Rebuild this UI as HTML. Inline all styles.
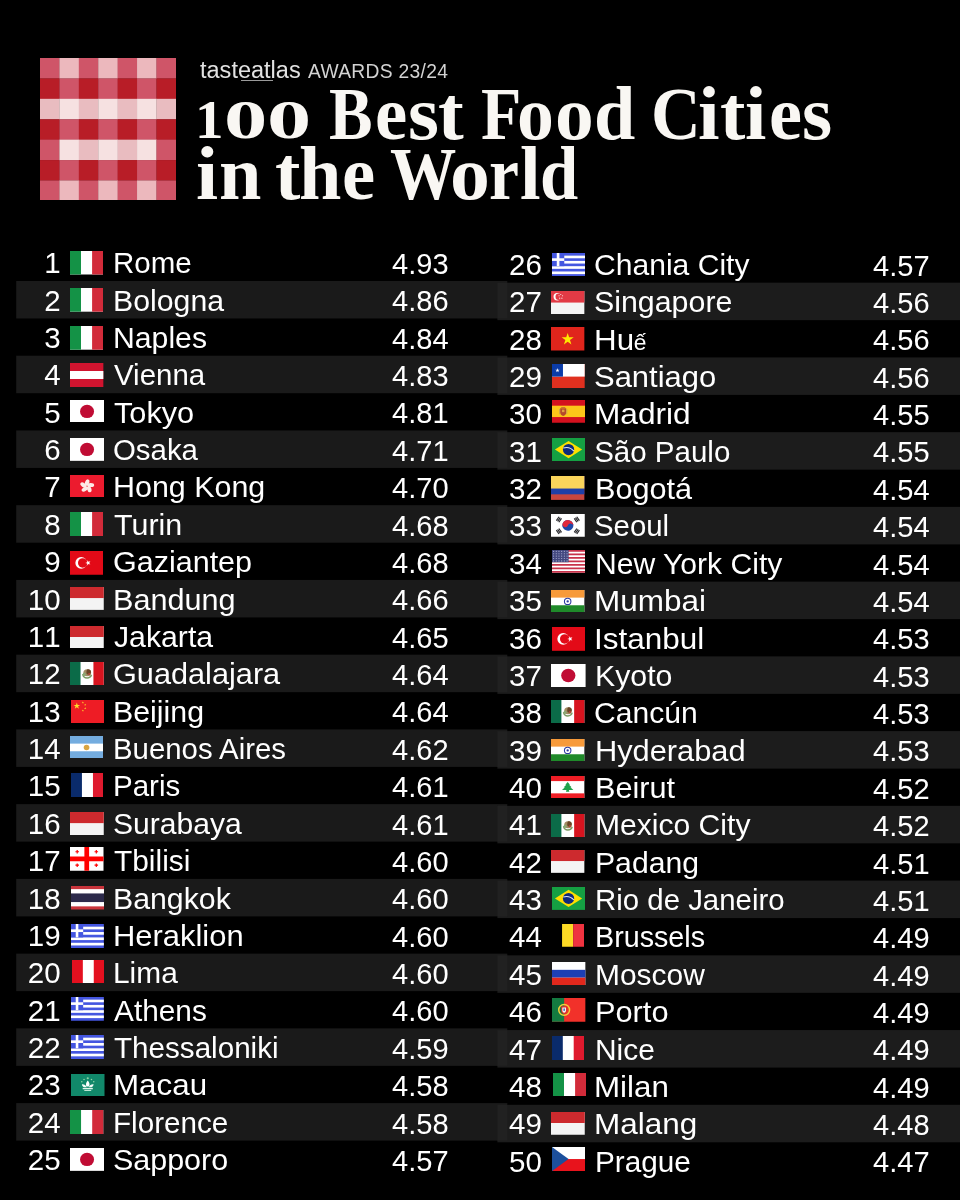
<!DOCTYPE html>
<html lang="en"><head><meta charset="utf-8"><title>100 Best Food Cities in the World</title>
<style>
html,body{margin:0;padding:0;background:#000;}
body{width:960px;height:1200px;overflow:hidden;}
.page{position:relative;width:960px;height:1200px;background:#000;overflow:hidden;font-family:"Liberation Sans",sans-serif;color:#fff;}
.logo{position:absolute;left:40.4px;top:57.5px;}
.ta,.aw{position:absolute;display:block;line-height:1;white-space:nowrap;transform-origin:0 0;}
.ta{color:#e2e2e2;}
.aw{color:#d2d2d2;}
.ul{position:absolute;left:241px;top:79.6px;width:32px;height:1.6px;background:#9a9a9a;}
h1{margin:0;padding:0;}
.tw{position:absolute;display:block;font-family:"Liberation Serif",serif;font-weight:bold;line-height:1;white-space:nowrap;color:#f9f7f3;transform-origin:0 0;}
.stripes{position:absolute;left:0;top:0;display:block;}
.n,.c,.v{position:absolute;display:block;font-size:29.5px;line-height:1;white-space:nowrap;transform-origin:0 0;color:#fff;}
.n,.v{font-kerning:none;}
.v{font-size:30.3px;}
.e{font-size:21.5px;margin-left:-0.3px;}
.fl{position:absolute;display:block;}

</style></head>
<body>
<div class="page">
<svg class="logo" viewBox="0 0 135.8 142.9" width="135.8" height="142.9"><rect x="0.00" y="0.00" width="19.71" height="20.71" fill="#cf5568"/><rect x="19.41" y="0.00" width="19.71" height="20.71" fill="#ecb8bd"/><rect x="38.81" y="0.00" width="19.71" height="20.71" fill="#cf5568"/><rect x="58.22" y="0.00" width="19.71" height="20.71" fill="#ecb8bd"/><rect x="77.63" y="0.00" width="19.71" height="20.71" fill="#cf5568"/><rect x="97.04" y="0.00" width="19.71" height="20.71" fill="#ecb8bd"/><rect x="116.44" y="0.00" width="19.71" height="20.71" fill="#cf5568"/><rect x="0.00" y="20.41" width="19.71" height="20.71" fill="#b81d27"/><rect x="19.41" y="20.41" width="19.71" height="20.71" fill="#cf5568"/><rect x="38.81" y="20.41" width="19.71" height="20.71" fill="#b81d27"/><rect x="58.22" y="20.41" width="19.71" height="20.71" fill="#cf5568"/><rect x="77.63" y="20.41" width="19.71" height="20.71" fill="#b81d27"/><rect x="97.04" y="20.41" width="19.71" height="20.71" fill="#cf5568"/><rect x="116.44" y="20.41" width="19.71" height="20.71" fill="#b81d27"/><rect x="0.00" y="40.83" width="19.71" height="20.71" fill="#e9bcc0"/><rect x="19.41" y="40.83" width="19.71" height="20.71" fill="#f6e1e1"/><rect x="38.81" y="40.83" width="19.71" height="20.71" fill="#e9bcc0"/><rect x="58.22" y="40.83" width="19.71" height="20.71" fill="#f6e1e1"/><rect x="77.63" y="40.83" width="19.71" height="20.71" fill="#e9bcc0"/><rect x="97.04" y="40.83" width="19.71" height="20.71" fill="#f6e1e1"/><rect x="116.44" y="40.83" width="19.71" height="20.71" fill="#e9bcc0"/><rect x="0.00" y="61.24" width="19.71" height="20.71" fill="#b81d27"/><rect x="19.41" y="61.24" width="19.71" height="20.71" fill="#cf5568"/><rect x="38.81" y="61.24" width="19.71" height="20.71" fill="#b81d27"/><rect x="58.22" y="61.24" width="19.71" height="20.71" fill="#cf5568"/><rect x="77.63" y="61.24" width="19.71" height="20.71" fill="#b81d27"/><rect x="97.04" y="61.24" width="19.71" height="20.71" fill="#cf5568"/><rect x="116.44" y="61.24" width="19.71" height="20.71" fill="#b81d27"/><rect x="0.00" y="81.66" width="19.71" height="20.71" fill="#cf5568"/><rect x="19.41" y="81.66" width="19.71" height="20.71" fill="#f6e1e1"/><rect x="38.81" y="81.66" width="19.71" height="20.71" fill="#e9bcc0"/><rect x="58.22" y="81.66" width="19.71" height="20.71" fill="#f6e1e1"/><rect x="77.63" y="81.66" width="19.71" height="20.71" fill="#e9bcc0"/><rect x="97.04" y="81.66" width="19.71" height="20.71" fill="#f6e1e1"/><rect x="116.44" y="81.66" width="19.71" height="20.71" fill="#cf5568"/><rect x="0.00" y="102.07" width="19.71" height="20.71" fill="#b81d27"/><rect x="19.41" y="102.07" width="19.71" height="20.71" fill="#cf5568"/><rect x="38.81" y="102.07" width="19.71" height="20.71" fill="#b81d27"/><rect x="58.22" y="102.07" width="19.71" height="20.71" fill="#cf5568"/><rect x="77.63" y="102.07" width="19.71" height="20.71" fill="#b81d27"/><rect x="97.04" y="102.07" width="19.71" height="20.71" fill="#cf5568"/><rect x="116.44" y="102.07" width="19.71" height="20.71" fill="#b81d27"/><rect x="0.00" y="122.49" width="19.71" height="20.71" fill="#cf5568"/><rect x="19.41" y="122.49" width="19.71" height="20.71" fill="#ecb8bd"/><rect x="38.81" y="122.49" width="19.71" height="20.71" fill="#cf5568"/><rect x="58.22" y="122.49" width="19.71" height="20.71" fill="#ecb8bd"/><rect x="77.63" y="122.49" width="19.71" height="20.71" fill="#cf5568"/><rect x="97.04" y="122.49" width="19.71" height="20.71" fill="#ecb8bd"/><rect x="116.44" y="122.49" width="19.71" height="20.71" fill="#cf5568"/></svg>
<span class="ta" style="left:200.15px;top:58.83px;font-size:23.00px;letter-spacing:0.00px;transform:scaleX(1.0226)">tasteatlas</span>
<div class="ul"></div>
<span class="aw" style="left:307.50px;top:61.79px;font-size:19.50px;letter-spacing:0.30px;transform:scaleX(0.9876)">AWARDS 23/24</span>
<h1>
<span class="w"><span class="tw" style="left:195.14px;top:93.19px;font-size:54.70px;transform-origin:0 45.81px;transform:scale(1.0425,1.000)">1</span><span class="tw" style="left:224.47px;top:93.19px;font-size:54.70px;transform-origin:0 45.81px;transform:scale(1.5816,1.000)">0</span><span class="tw" style="left:266.91px;top:93.19px;font-size:54.70px;transform-origin:0 45.81px;transform:scale(1.6156,1.000)">0</span></span>
<span class="w"><span class="tw" style="left:329.02px;top:77.61px;font-size:73.30px;transform-origin:0 61.39px;transform:scale(0.8906,1.000)">B</span><span class="tw" style="left:374.52px;top:77.61px;font-size:73.30px;transform-origin:0 61.39px;transform:scale(0.9900,1.045)">e</span><span class="tw" style="left:407.61px;top:77.61px;font-size:73.30px;transform-origin:0 61.39px;transform:scale(1.0873,1.045)">s</span><span class="tw" style="left:437.84px;top:77.61px;font-size:73.30px;transform-origin:0 61.39px;transform:scale(1.0524,1.045)">t</span></span>
<span class="w"><span class="tw" style="left:480.71px;top:77.61px;font-size:73.30px;transform-origin:0 61.39px;transform:scale(0.9004,1.000)">F</span><span class="tw" style="left:517.42px;top:77.61px;font-size:73.30px;transform-origin:0 61.39px;transform:scale(1.0057,1.045)">o</span><span class="tw" style="left:554.79px;top:77.61px;font-size:73.30px;transform-origin:0 61.39px;transform:scale(1.0565,1.045)">o</span><span class="tw" style="left:593.73px;top:77.61px;font-size:73.30px;transform-origin:0 61.39px;transform:scale(1.0131,1.045)">d</span></span>
<span class="w"><span class="tw" style="left:651.31px;top:77.61px;font-size:73.30px;transform-origin:0 61.39px;transform:scale(0.9381,1.000)">C</span><span class="tw" style="left:698.45px;top:77.61px;font-size:73.30px;transform-origin:0 61.39px;transform:scale(1.0580,1.045)">i</span><span class="tw" style="left:719.86px;top:77.61px;font-size:73.30px;transform-origin:0 61.39px;transform:scale(1.0394,1.045)">t</span><span class="tw" style="left:745.47px;top:77.61px;font-size:73.30px;transform-origin:0 61.39px;transform:scale(1.0469,1.045)">i</span><span class="tw" style="left:768.77px;top:77.61px;font-size:73.30px;transform-origin:0 61.39px;transform:scale(1.0144,1.045)">e</span><span class="tw" style="left:802.07px;top:77.61px;font-size:73.30px;transform-origin:0 61.39px;transform:scale(1.0588,1.045)">s</span></span>
<span class="w"><span class="tw" style="left:196.41px;top:138.41px;font-size:73.30px;transform-origin:0 61.39px;transform:scale(1.0858,1.045)">i</span><span class="tw" style="left:218.50px;top:138.41px;font-size:73.30px;transform-origin:0 61.39px;transform:scale(1.0389,1.045)">n</span></span>
<span class="w"><span class="tw" style="left:274.86px;top:138.41px;font-size:73.30px;transform-origin:0 61.39px;transform:scale(1.0394,1.045)">t</span><span class="tw" style="left:299.48px;top:138.41px;font-size:73.30px;transform-origin:0 61.39px;transform:scale(1.0394,1.045)">h</span><span class="tw" style="left:342.36px;top:138.41px;font-size:73.30px;transform-origin:0 61.39px;transform:scale(1.0197,1.045)">e</span></span>
<span class="w"><span class="tw" style="left:389.54px;top:138.41px;font-size:73.30px;transform-origin:0 61.39px;transform:scale(0.9039,1.000)">W</span><span class="tw" style="left:449.91px;top:138.41px;font-size:73.30px;transform-origin:0 61.39px;transform:scale(1.0882,1.045)">o</span><span class="tw" style="left:489.31px;top:138.41px;font-size:73.30px;transform-origin:0 61.39px;transform:scale(0.9209,1.045)">r</span><span class="tw" style="left:520.39px;top:138.41px;font-size:73.30px;transform-origin:0 61.39px;transform:scale(1.0095,1.045)">l</span><span class="tw" style="left:540.25px;top:138.41px;font-size:73.30px;transform-origin:0 61.39px;transform:scale(0.9374,1.045)">d</span></span>
</h1>
<svg class="stripes" width="960" height="1200" viewBox="0 0 960 1200">
<rect x="16.2" y="280.97" width="491.1" height="37.50" fill="#1a1a1a"/>
<rect x="497.4" y="282.67" width="462.6" height="37.50" fill="#1c1c1c"/>
<rect x="497.4" y="282.67" width="9.900" height="35.80" fill="#212121"/>
<rect x="16.2" y="355.71" width="491.1" height="37.50" fill="#1a1a1a"/>
<rect x="497.4" y="357.41" width="462.6" height="37.50" fill="#1c1c1c"/>
<rect x="497.4" y="357.41" width="9.900" height="35.80" fill="#212121"/>
<rect x="16.2" y="430.45" width="491.1" height="37.50" fill="#1a1a1a"/>
<rect x="497.4" y="432.15" width="462.6" height="37.50" fill="#1c1c1c"/>
<rect x="497.4" y="432.15" width="9.900" height="35.80" fill="#212121"/>
<rect x="16.2" y="505.19" width="491.1" height="37.50" fill="#1a1a1a"/>
<rect x="497.4" y="506.89" width="462.6" height="37.50" fill="#1c1c1c"/>
<rect x="497.4" y="506.89" width="9.900" height="35.80" fill="#212121"/>
<rect x="16.2" y="579.93" width="491.1" height="37.50" fill="#1a1a1a"/>
<rect x="497.4" y="581.63" width="462.6" height="37.50" fill="#1c1c1c"/>
<rect x="497.4" y="581.63" width="9.900" height="35.80" fill="#212121"/>
<rect x="16.2" y="654.67" width="491.1" height="37.50" fill="#1a1a1a"/>
<rect x="497.4" y="656.37" width="462.6" height="37.50" fill="#1c1c1c"/>
<rect x="497.4" y="656.37" width="9.900" height="35.80" fill="#212121"/>
<rect x="16.2" y="729.41" width="491.1" height="37.50" fill="#1a1a1a"/>
<rect x="497.4" y="731.11" width="462.6" height="37.50" fill="#1c1c1c"/>
<rect x="497.4" y="731.11" width="9.900" height="35.80" fill="#212121"/>
<rect x="16.2" y="804.15" width="491.1" height="37.50" fill="#1a1a1a"/>
<rect x="497.4" y="805.85" width="462.6" height="37.50" fill="#1c1c1c"/>
<rect x="497.4" y="805.85" width="9.900" height="35.80" fill="#212121"/>
<rect x="16.2" y="878.89" width="491.1" height="37.50" fill="#1a1a1a"/>
<rect x="497.4" y="880.59" width="462.6" height="37.50" fill="#1c1c1c"/>
<rect x="497.4" y="880.59" width="9.900" height="35.80" fill="#212121"/>
<rect x="16.2" y="953.63" width="491.1" height="37.50" fill="#1a1a1a"/>
<rect x="497.4" y="955.33" width="462.6" height="37.50" fill="#1c1c1c"/>
<rect x="497.4" y="955.33" width="9.900" height="35.80" fill="#212121"/>
<rect x="16.2" y="1028.37" width="491.1" height="37.50" fill="#1a1a1a"/>
<rect x="497.4" y="1030.07" width="462.6" height="37.50" fill="#1c1c1c"/>
<rect x="497.4" y="1030.07" width="9.900" height="35.80" fill="#212121"/>
<rect x="16.2" y="1103.11" width="491.1" height="37.50" fill="#1a1a1a"/>
<rect x="497.4" y="1104.81" width="462.6" height="37.50" fill="#1c1c1c"/>
<rect x="497.4" y="1104.81" width="9.900" height="35.80" fill="#212121"/>
</svg>
<div class="row">
<span class="n" style="left:44.19px;top:248.23px;">1</span>
<svg class="fl" style="left:70.40px;top:251.10px;width:33.10px;height:23.50px" viewBox="0 0 34 24" preserveAspectRatio="none"><rect width="34" height="24" fill="#fff"/><rect width="11.3" height="24" fill="#149246"/><rect x="22.7" width="11.3" height="24" fill="#d22b3a"/></svg>
<span class="c" style="left:113.04px;top:248.23px;">Rome</span>
<span class="v" style="left:391.82px;top:249.00px;transform:scaleX(0.9594)">4.93</span>
</div>
<div class="row">
<span class="n" style="left:44.19px;top:285.60px;">2</span>
<svg class="fl" style="left:70.40px;top:288.40px;width:33.10px;height:23.70px" viewBox="0 0 34 24" preserveAspectRatio="none"><rect width="34" height="24" fill="#fff"/><rect width="11.3" height="24" fill="#149246"/><rect x="22.7" width="11.3" height="24" fill="#d22b3a"/></svg>
<span class="c" style="left:112.98px;top:285.60px;transform:scaleX(1.0258);">Bologna</span>
<span class="v" style="left:391.82px;top:286.37px;transform:scaleX(0.9594)">4.86</span>
</div>
<div class="row">
<span class="n" style="left:44.19px;top:322.97px;">3</span>
<svg class="fl" style="left:70.40px;top:325.90px;width:33.10px;height:23.70px" viewBox="0 0 34 24" preserveAspectRatio="none"><rect width="34" height="24" fill="#fff"/><rect width="11.3" height="24" fill="#149246"/><rect x="22.7" width="11.3" height="24" fill="#d22b3a"/></svg>
<span class="c" style="left:112.98px;top:322.97px;transform:scaleX(1.0234);">Naples</span>
<span class="v" style="left:391.82px;top:323.74px;transform:scaleX(0.9594)">4.84</span>
</div>
<div class="row">
<span class="n" style="left:44.19px;top:360.34px;">4</span>
<svg class="fl" style="left:70.40px;top:362.75px;width:33.35px;height:24.00px" viewBox="0 0 34 24" preserveAspectRatio="none"><rect width="34" height="24" fill="#d0142f"/><rect y="8" width="34" height="8" fill="#fff"/></svg>
<span class="c" style="left:114.15px;top:360.34px;transform:scaleX(0.9980);">Vienna</span>
<span class="v" style="left:391.82px;top:361.11px;transform:scaleX(0.9594)">4.83</span>
</div>
<div class="row">
<span class="n" style="left:44.19px;top:397.71px;">5</span>
<svg class="fl" style="left:70.00px;top:399.50px;width:34.10px;height:22.90px" viewBox="0 0 34 24" preserveAspectRatio="none"><rect width="34" height="24" fill="#fff"/><circle cx="17" cy="12" r="7" fill="#c00c34"/></svg>
<span class="c" style="left:113.54px;top:397.71px;transform:scaleX(1.0397);">Tokyo</span>
<span class="v" style="left:391.82px;top:398.48px;transform:scaleX(0.9594)">4.81</span>
</div>
<div class="row">
<span class="n" style="left:44.19px;top:435.08px;">6</span>
<svg class="fl" style="left:70.00px;top:437.90px;width:34.10px;height:22.85px" viewBox="0 0 34 24" preserveAspectRatio="none"><rect width="34" height="24" fill="#fff"/><circle cx="17" cy="12" r="7" fill="#c00c34"/></svg>
<span class="c" style="left:112.83px;top:435.08px;transform:scaleX(0.9965);">Osaka</span>
<span class="v" style="left:391.82px;top:435.85px;transform:scaleX(0.9594)">4.71</span>
</div>
<div class="row">
<span class="n" style="left:44.19px;top:472.45px;">7</span>
<svg class="fl" style="left:70.00px;top:474.50px;width:34.10px;height:22.75px" viewBox="0 0 34 24" preserveAspectRatio="none"><rect width="34" height="24" fill="#ec1b2e"/><g fill="#fde9e6" transform="translate(17 11.800)"><ellipse cx="0" cy="-3.800" rx="2.100" ry="3.500" transform="rotate(0) rotate(20 0 -3.800)"/><ellipse cx="0" cy="-3.800" rx="2.100" ry="3.500" transform="rotate(72) rotate(20 0 -3.800)"/><ellipse cx="0" cy="-3.800" rx="2.100" ry="3.500" transform="rotate(144) rotate(20 0 -3.800)"/><ellipse cx="0" cy="-3.800" rx="2.100" ry="3.500" transform="rotate(216) rotate(20 0 -3.800)"/><ellipse cx="0" cy="-3.800" rx="2.100" ry="3.500" transform="rotate(288) rotate(20 0 -3.800)"/></g></svg>
<span class="c" style="left:112.97px;top:472.45px;transform:scaleX(1.0317);">Hong Kong</span>
<span class="v" style="left:391.82px;top:473.22px;transform:scaleX(0.9594)">4.70</span>
</div>
<div class="row">
<span class="n" style="left:44.19px;top:509.82px;">8</span>
<svg class="fl" style="left:70.40px;top:512.00px;width:33.10px;height:24.00px" viewBox="0 0 34 24" preserveAspectRatio="none"><rect width="34" height="24" fill="#fff"/><rect width="11.3" height="24" fill="#149246"/><rect x="22.7" width="11.3" height="24" fill="#d22b3a"/></svg>
<span class="c" style="left:113.54px;top:509.82px;transform:scaleX(1.0318);">Turin</span>
<span class="v" style="left:391.82px;top:510.59px;transform:scaleX(0.9594)">4.68</span>
</div>
<div class="row">
<span class="n" style="left:44.19px;top:547.19px;">9</span>
<svg class="fl" style="left:70.40px;top:551.00px;width:33.10px;height:23.75px" viewBox="0 0 34 24" preserveAspectRatio="none"><rect width="34" height="24" fill="#e30a17"/><circle cx="11.5" cy="12" r="6" fill="#fff"/><circle cx="13" cy="12" r="4.8" fill="#e30a17"/><polygon points="15.70,12.00 17.70,11.35 17.70,9.24 18.94,10.95 20.95,10.30 19.71,12.00 20.95,13.70 18.94,13.05 17.70,14.76 17.70,12.65" fill="#fff"/></svg>
<span class="c" style="left:112.63px;top:547.19px;transform:scaleX(1.0338);">Gaziantep</span>
<span class="v" style="left:391.82px;top:547.96px;transform:scaleX(0.9594)">4.68</span>
</div>
<div class="row">
<span class="n" style="left:27.79px;top:584.56px;">10</span>
<svg class="fl" style="left:70.00px;top:587.00px;width:33.75px;height:22.90px" viewBox="0 0 34 24" preserveAspectRatio="none"><rect width="34" height="24" fill="#f4f4f4"/><rect width="34" height="11.6" fill="#cd2a2e"/></svg>
<span class="c" style="left:112.95px;top:584.56px;transform:scaleX(1.0377);">Bandung</span>
<span class="v" style="left:391.82px;top:585.33px;transform:scaleX(0.9594)">4.66</span>
</div>
<div class="row">
<span class="n" style="left:27.79px;top:621.93px;">11</span>
<svg class="fl" style="left:70.00px;top:625.50px;width:33.75px;height:22.75px" viewBox="0 0 34 24" preserveAspectRatio="none"><rect width="34" height="24" fill="#f4f4f4"/><rect width="34" height="11.6" fill="#cd2a2e"/></svg>
<span class="c" style="left:113.70px;top:621.93px;transform:scaleX(1.0243);">Jakarta</span>
<span class="v" style="left:391.82px;top:622.70px;transform:scaleX(0.9594)">4.65</span>
</div>
<div class="row">
<span class="n" style="left:27.79px;top:659.30px;">12</span>
<svg class="fl" style="left:70.00px;top:662.00px;width:33.75px;height:23.10px" viewBox="0 0 34 24" preserveAspectRatio="none"><rect width="34" height="24" fill="#fff"/><rect width="10.6" height="24" fill="#0b6b48"/><rect x="23.6" width="10.4" height="24" fill="#d7141f"/><ellipse cx="17.4" cy="11.2" rx="3.900" ry="3.700" fill="#a08a62"/><path d="M17 8c2-1 4.200.2 4.200 2.400c0 1.600-1.200 2.600-2.800 2.600c-1.600 0-2.400-1.400-1.400-5z" fill="#6a4526"/><circle cx="19.400" cy="12.600" r="1.200" fill="#b0473a"/><path d="M12.800 12.600c.4 2.600 2.200 4 4.400 4s3.800-1.200 4.400-3.400" stroke="#7a9a63" stroke-width="1.500" fill="none"/><ellipse cx="14.400" cy="12.800" rx="1.500" ry="1.800" fill="#8aa672"/></svg>
<span class="c" style="left:112.62px;top:659.30px;transform:scaleX(1.0401);">Guadalajara</span>
<span class="v" style="left:391.82px;top:660.07px;transform:scaleX(0.9594)">4.64</span>
</div>
<div class="row">
<span class="n" style="left:27.79px;top:696.67px;">13</span>
<svg class="fl" style="left:71.00px;top:699.50px;width:33.10px;height:23.00px" viewBox="0 0 34 24" preserveAspectRatio="none"><rect width="34" height="24" fill="#ee1c25"/><polygon points="6.00,2.60 6.81,5.09 9.42,5.09 7.31,6.62 8.12,9.11 6.00,7.58 3.88,9.11 4.69,6.62 2.58,5.09 5.19,5.09" fill="#ffde2a"/><polygon points="12.20,1.40 12.47,2.23 13.34,2.23 12.64,2.74 12.91,3.57 12.20,3.06 11.49,3.57 11.76,2.74 11.06,2.23 11.93,2.23" fill="#ffde2a"/><polygon points="14.60,3.80 14.87,4.63 15.74,4.63 15.04,5.14 15.31,5.97 14.60,5.46 13.89,5.97 14.16,5.14 13.46,4.63 14.33,4.63" fill="#ffde2a"/><polygon points="14.60,7.40 14.87,8.23 15.74,8.23 15.04,8.74 15.31,9.57 14.60,9.06 13.89,9.57 14.16,8.74 13.46,8.23 14.33,8.23" fill="#ffde2a"/><polygon points="12.20,9.80 12.47,10.63 13.34,10.63 12.64,11.14 12.91,11.97 12.20,11.46 11.49,11.97 11.76,11.14 11.06,10.63 11.93,10.63" fill="#ffde2a"/></svg>
<span class="c" style="left:112.97px;top:696.67px;transform:scaleX(1.0279);">Beijing</span>
<span class="v" style="left:391.82px;top:697.44px;transform:scaleX(0.9594)">4.64</span>
</div>
<div class="row">
<span class="n" style="left:27.79px;top:734.04px;">14</span>
<svg class="fl" style="left:70.40px;top:735.60px;width:33.10px;height:22.90px" viewBox="0 0 34 24" preserveAspectRatio="none"><rect width="34" height="24" fill="#74acdf"/><rect y="8" width="34" height="8" fill="#fff"/><circle cx="17" cy="12" r="2.9" fill="#d9a441"/></svg>
<span class="c" style="left:113.05px;top:734.04px;transform:scaleX(0.9953);">Buenos Aires</span>
<span class="v" style="left:391.82px;top:734.81px;transform:scaleX(0.9594)">4.62</span>
</div>
<div class="row">
<span class="n" style="left:27.79px;top:771.41px;">15</span>
<svg class="fl" style="left:70.60px;top:772.90px;width:32.90px;height:24.10px" viewBox="0 0 34 24" preserveAspectRatio="none"><rect width="34" height="24" fill="#fff"/><rect width="11.3" height="24" fill="#0a2b6b"/><rect x="22.7" width="11.3" height="24" fill="#df1a2e"/></svg>
<span class="c" style="left:113.04px;top:771.41px;">Paris</span>
<span class="v" style="left:391.82px;top:772.18px;transform:scaleX(0.9594)">4.61</span>
</div>
<div class="row">
<span class="n" style="left:27.79px;top:808.78px;">16</span>
<svg class="fl" style="left:70.00px;top:812.00px;width:33.75px;height:23.00px" viewBox="0 0 34 24" preserveAspectRatio="none"><rect width="34" height="24" fill="#f4f4f4"/><rect width="34" height="11.6" fill="#cd2a2e"/></svg>
<span class="c" style="left:112.80px;top:808.78px;transform:scaleX(1.0194);">Surabaya</span>
<span class="v" style="left:391.82px;top:809.55px;transform:scaleX(0.9594)">4.61</span>
</div>
<div class="row">
<span class="n" style="left:27.79px;top:846.15px;">17</span>
<svg class="fl" style="left:70.25px;top:847.25px;width:33.50px;height:23.75px" viewBox="0 0 34 24" preserveAspectRatio="none"><rect width="34" height="24" fill="#fff"/><rect x="14.6" width="4.8" height="24" fill="#f00"/><rect y="9.6" width="34" height="4.8" fill="#f00"/><path d="M6.7 3h1.2v1.2h1.2v1.2h-1.2v1.2h-1.2v-1.2h-1.2v-1.2h1.2z" fill="#f00"/><path d="M26.1 3h1.2v1.2h1.2v1.2h-1.2v1.2h-1.2v-1.2h-1.2v-1.2h1.2z" fill="#f00"/><path d="M6.7 16.6h1.2v1.2h1.2v1.2h-1.2v1.2h-1.2v-1.2h-1.2v-1.2h1.2z" fill="#f00"/><path d="M26.1 16.6h1.2v1.2h1.2v1.2h-1.2v1.2h-1.2v-1.2h-1.2v-1.2h1.2z" fill="#f00"/></svg>
<span class="c" style="left:113.55px;top:846.15px;transform:scaleX(1.0128);">Tbilisi</span>
<span class="v" style="left:391.82px;top:846.92px;transform:scaleX(0.9594)">4.60</span>
</div>
<div class="row">
<span class="n" style="left:27.79px;top:883.52px;">18</span>
<svg class="fl" style="left:71.00px;top:886.25px;width:33.10px;height:23.50px" viewBox="0 0 34 24" preserveAspectRatio="none"><rect width="34" height="24" fill="#c8343b"/><rect y="3.200" width="34" height="17.600" fill="#fff"/><rect y="7.600" width="34" height="8.800" fill="#2c2a4b"/></svg>
<span class="c" style="left:112.98px;top:883.52px;transform:scaleX(1.0258);">Bangkok</span>
<span class="v" style="left:391.82px;top:884.29px;transform:scaleX(0.9594)">4.60</span>
</div>
<div class="row">
<span class="n" style="left:27.79px;top:920.89px;">19</span>
<svg class="fl" style="left:71.25px;top:923.75px;width:32.85px;height:24.15px" viewBox="0 0 34 24" preserveAspectRatio="none"><rect width="34" height="24" fill="#4456e0"/><rect y="2.67" width="34" height="2.67" fill="#fff"/><rect y="8.00" width="34" height="2.67" fill="#fff"/><rect y="13.33" width="34" height="2.67" fill="#fff"/><rect y="18.67" width="34" height="2.67" fill="#fff"/><rect width="12.6" height="13.33" fill="#4456e0"/><rect x="4.9" width="2.7" height="13.33" fill="#fff"/><rect y="5.33" width="12.6" height="2.67" fill="#fff"/></svg>
<span class="c" style="left:112.93px;top:920.89px;transform:scaleX(1.0482);">Heraklion</span>
<span class="v" style="left:391.82px;top:921.66px;transform:scaleX(0.9594)">4.60</span>
</div>
<div class="row">
<span class="n" style="left:27.79px;top:958.26px;">20</span>
<svg class="fl" style="left:71.50px;top:959.75px;width:32.60px;height:23.35px" viewBox="0 0 34 24" preserveAspectRatio="none"><rect width="34" height="24" fill="#fff"/><rect width="11.3" height="24" fill="#e4101f"/><rect x="22.7" width="11.3" height="24" fill="#e4101f"/></svg>
<span class="c" style="left:113.01px;top:958.26px;transform:scaleX(1.0131);">Lima</span>
<span class="v" style="left:391.82px;top:959.03px;transform:scaleX(0.9594)">4.60</span>
</div>
<div class="row">
<span class="n" style="left:27.79px;top:995.63px;">21</span>
<svg class="fl" style="left:71.25px;top:997.25px;width:32.85px;height:23.75px" viewBox="0 0 34 24" preserveAspectRatio="none"><rect width="34" height="24" fill="#4456e0"/><rect y="2.67" width="34" height="2.67" fill="#fff"/><rect y="8.00" width="34" height="2.67" fill="#fff"/><rect y="13.33" width="34" height="2.67" fill="#fff"/><rect y="18.67" width="34" height="2.67" fill="#fff"/><rect width="12.6" height="13.33" fill="#4456e0"/><rect x="4.9" width="2.7" height="13.33" fill="#fff"/><rect y="5.33" width="12.6" height="2.67" fill="#fff"/></svg>
<span class="c" style="left:114.15px;top:995.63px;transform:scaleX(1.0104);">Athens</span>
<span class="v" style="left:391.82px;top:996.40px;transform:scaleX(0.9594)">4.60</span>
</div>
<div class="row">
<span class="n" style="left:27.79px;top:1033.00px;">22</span>
<svg class="fl" style="left:71.25px;top:1034.75px;width:32.85px;height:24.00px" viewBox="0 0 34 24" preserveAspectRatio="none"><rect width="34" height="24" fill="#4456e0"/><rect y="2.67" width="34" height="2.67" fill="#fff"/><rect y="8.00" width="34" height="2.67" fill="#fff"/><rect y="13.33" width="34" height="2.67" fill="#fff"/><rect y="18.67" width="34" height="2.67" fill="#fff"/><rect width="12.6" height="13.33" fill="#4456e0"/><rect x="4.9" width="2.7" height="13.33" fill="#fff"/><rect y="5.33" width="12.6" height="2.67" fill="#fff"/></svg>
<span class="c" style="left:113.56px;top:1033.00px;transform:scaleX(1.0038);">Thessaloniki</span>
<span class="v" style="left:391.82px;top:1033.77px;transform:scaleX(0.9594)">4.59</span>
</div>
<div class="row">
<span class="n" style="left:27.79px;top:1070.37px;">23</span>
<svg class="fl" style="left:71.25px;top:1074.00px;width:33.50px;height:22.00px" viewBox="0 0 34 24" preserveAspectRatio="none"><rect width="34" height="24" fill="#11886a"/><g transform="translate(17 13.400) scale(1.350) translate(-17 -13)"><path d="M17 8.400c1.300 1.400 1.700 3.200 1 4.800h-2c-.7-1.600-.3-3.400 1-4.800z" fill="#fff"/><path d="M12.600 11.400c1.600-.2 3 .6 3.600 2.400h-2c-1-.4-1.500-1.400-1.600-2.400zM21.400 11.400c-1.600-.2-3 .6-3.600 2.400h2c1-.4 1.500-1.400 1.600-2.400z" fill="#f4fbf8"/><rect x="13.200" y="14.300" width="7.600" height="1.100" fill="#dff3ea"/><rect x="14.400" y="15.900" width="5.200" height=".9" fill="#bfe6d6"/><g fill="#8fd6a6"><circle cx="17" cy="6.600" r=".8"/><circle cx="14.200" cy="7.500" r=".6"/><circle cx="19.800" cy="7.500" r=".6"/><circle cx="12.500" cy="9.400" r=".6"/><circle cx="21.500" cy="9.400" r=".6"/></g></g></svg>
<span class="c" style="left:112.89px;top:1070.37px;transform:scaleX(1.0625);">Macau</span>
<span class="v" style="left:391.82px;top:1071.14px;transform:scaleX(0.9594)">4.58</span>
</div>
<div class="row">
<span class="n" style="left:27.79px;top:1107.74px;">24</span>
<svg class="fl" style="left:70.25px;top:1110.00px;width:33.25px;height:24.00px" viewBox="0 0 34 24" preserveAspectRatio="none"><rect width="34" height="24" fill="#fff"/><rect width="11.3" height="24" fill="#149246"/><rect x="22.7" width="11.3" height="24" fill="#d22b3a"/></svg>
<span class="c" style="left:113.03px;top:1107.74px;transform:scaleX(1.0050);">Florence</span>
<span class="v" style="left:391.82px;top:1108.51px;transform:scaleX(0.9594)">4.58</span>
</div>
<div class="row">
<span class="n" style="left:27.79px;top:1145.11px;">25</span>
<svg class="fl" style="left:70.00px;top:1147.75px;width:34.10px;height:22.85px" viewBox="0 0 34 24" preserveAspectRatio="none"><rect width="34" height="24" fill="#fff"/><circle cx="17" cy="12" r="7" fill="#c00c34"/></svg>
<span class="c" style="left:112.78px;top:1145.11px;transform:scaleX(1.0322);">Sapporo</span>
<span class="v" style="left:391.82px;top:1145.88px;transform:scaleX(0.9594)">4.57</span>
</div>
<div class="row">
<span class="n" style="left:508.99px;top:249.83px;">26</span>
<svg class="fl" style="left:551.50px;top:252.50px;width:33.10px;height:23.75px" viewBox="0 0 34 24" preserveAspectRatio="none"><rect width="34" height="24" fill="#4456e0"/><rect y="2.67" width="34" height="2.67" fill="#fff"/><rect y="8.00" width="34" height="2.67" fill="#fff"/><rect y="13.33" width="34" height="2.67" fill="#fff"/><rect y="18.67" width="34" height="2.67" fill="#fff"/><rect width="12.6" height="13.33" fill="#4456e0"/><rect x="4.9" width="2.7" height="13.33" fill="#fff"/><rect y="5.33" width="12.6" height="2.67" fill="#fff"/></svg>
<span class="c" style="left:594.00px;top:249.83px;transform:scaleX(1.0198);">Chania City</span>
<span class="v" style="left:873.02px;top:250.60px;transform:scaleX(0.9594)">4.57</span>
</div>
<div class="row">
<span class="n" style="left:508.99px;top:287.20px;">27</span>
<svg class="fl" style="left:551.25px;top:290.60px;width:33.35px;height:23.15px" viewBox="0 0 34 24" preserveAspectRatio="none"><rect width="34" height="24" fill="#f4f4f4"/><rect width="34" height="12" fill="#e23a45"/><circle cx="6.4" cy="6" r="3.8" fill="#fff"/><circle cx="8" cy="6" r="3.4" fill="#e23a45"/><circle cx="10" cy="3.6" r=".55" fill="#fff"/><circle cx="8.2" cy="5" r=".55" fill="#fff"/><circle cx="11.8" cy="5" r=".55" fill="#fff"/><circle cx="8.9" cy="7.4" r=".55" fill="#fff"/><circle cx="11.1" cy="7.4" r=".55" fill="#fff"/></svg>
<span class="c" style="left:594.13px;top:287.20px;transform:scaleX(1.0288);">Singapore</span>
<span class="v" style="left:873.02px;top:287.97px;transform:scaleX(0.9594)">4.56</span>
</div>
<div class="row">
<span class="n" style="left:508.99px;top:324.57px;">28</span>
<svg class="fl" style="left:551.25px;top:327.10px;width:33.35px;height:23.50px" viewBox="0 0 34 24" preserveAspectRatio="none"><rect width="34" height="24" fill="#e0251c"/><polygon points="17.00,6.10 18.46,10.59 23.18,10.59 19.36,13.37 20.82,17.86 17.00,15.08 13.18,17.86 14.64,13.37 10.82,10.59 15.54,10.59" fill="#ffe800"/></svg>
<span class="c" style="left:594.49px;top:324.57px;transform:scaleX(1.0629);">Hu<span class="e">ế</span></span>
<span class="v" style="left:873.02px;top:325.34px;transform:scaleX(0.9594)">4.56</span>
</div>
<div class="row">
<span class="n" style="left:508.99px;top:361.94px;">29</span>
<svg class="fl" style="left:551.90px;top:364.10px;width:32.70px;height:24.00px" viewBox="0 0 34 24" preserveAspectRatio="none"><rect width="34" height="24" fill="#e0301f"/><rect width="34" height="12.6" fill="#fff"/><rect width="11.4" height="12.6" fill="#0b3ca8"/><polygon points="5.70,4.10 6.22,5.69 7.89,5.69 6.54,6.67 7.05,8.26 5.70,7.28 4.35,8.26 4.86,6.67 3.51,5.69 5.18,5.69" fill="#fff"/></svg>
<span class="c" style="left:594.11px;top:361.94px;transform:scaleX(1.0490);">Santiago</span>
<span class="v" style="left:873.02px;top:362.71px;transform:scaleX(0.9594)">4.56</span>
</div>
<div class="row">
<span class="n" style="left:508.99px;top:399.31px;">30</span>
<svg class="fl" style="left:551.50px;top:400.25px;width:33.10px;height:22.75px" viewBox="0 0 34 24" preserveAspectRatio="none"><rect width="34" height="24" fill="#d4111e"/><rect y="6" width="34" height="12" fill="#fcc619"/><path d="M8.400 8.600h6.200v4.400c0 2.200-1.400 3.400-3.100 3.800c-1.700-.4-3.100-1.600-3.100-3.800z" fill="#b5482c"/><rect x="9.300" y="7.300" width="4.400" height="1.500" rx=".6" fill="#c9772e"/><rect x="7.300" y="9.400" width="1" height="5.600" fill="#c9a24a"/><rect x="14.700" y="9.400" width="1" height="5.600" fill="#c9a24a"/><rect x="10.200" y="10.200" width="2.600" height="2.600" fill="#e0a040"/></svg>
<span class="c" style="left:594.47px;top:399.31px;transform:scaleX(1.0726);">Madrid</span>
<span class="v" style="left:873.02px;top:400.08px;transform:scaleX(0.9594)">4.55</span>
</div>
<div class="row">
<span class="n" style="left:508.99px;top:436.68px;">31</span>
<svg class="fl" style="left:551.50px;top:437.75px;width:33.10px;height:23.15px" viewBox="0 0 34 24" preserveAspectRatio="none"><rect width="34" height="24" fill="#15a043"/><polygon points="17,3 31,12 17,21 3,12" fill="#fedf00"/><circle cx="17" cy="12" r="5.8" fill="#102a7a"/><path d="M11.6 10.4c4-1.2 8-.2 10.900 3.200" stroke="#dfe6f5" stroke-width="1.1" fill="none"/></svg>
<span class="c" style="left:594.17px;top:436.68px;">São Paulo</span>
<span class="v" style="left:873.02px;top:437.45px;transform:scaleX(0.9594)">4.55</span>
</div>
<div class="row">
<span class="n" style="left:508.99px;top:474.05px;">32</span>
<svg class="fl" style="left:551.25px;top:476.10px;width:33.35px;height:23.90px" viewBox="0 0 34 24" preserveAspectRatio="none"><rect width="34" height="24" fill="#c8463f"/><rect width="34" height="18.4" fill="#1f3fa8"/><rect width="34" height="12.6" fill="#fad55b"/></svg>
<span class="c" style="left:594.55px;top:474.05px;transform:scaleX(1.0383);">Bogotá</span>
<span class="v" style="left:873.02px;top:474.82px;transform:scaleX(0.9594)">4.54</span>
</div>
<div class="row">
<span class="n" style="left:508.99px;top:511.42px;">33</span>
<svg class="fl" style="left:551.00px;top:513.75px;width:33.75px;height:22.75px" viewBox="0 0 34 24" preserveAspectRatio="none"><rect width="34" height="24" fill="#fff"/><g transform="translate(17 12) rotate(20)"><circle r="5.600" fill="#1d47a8"/><path d="M-5.600 0a5.600 5.600 0 0 1 11.200 0a2.800 2.800 0 0 0-5.600 0a2.800 2.800 0 0 1-5.600 0z" fill="#e0283c"/></g><g transform="translate(8 5.8) rotate(-56)" fill="#26262a"><rect x="-2.400" y="-2.100" width="4.800" height="1.150"/><rect x="-2.400" y="-.575" width="4.800" height="1.150"/><rect x="-2.400" y=".95" width="4.800" height="1.150"/></g><g transform="translate(26 5.8) rotate(56)" fill="#26262a"><rect x="-2.400" y="-2.100" width="4.800" height="1.150"/><rect x="-2.400" y="-.575" width="4.800" height="1.150"/><rect x="-2.400" y=".95" width="4.800" height="1.150"/></g><g transform="translate(8 18.2) rotate(56)" fill="#26262a"><rect x="-2.400" y="-2.100" width="4.800" height="1.150"/><rect x="-2.400" y="-.575" width="4.800" height="1.150"/><rect x="-2.400" y=".95" width="4.800" height="1.150"/></g><g transform="translate(26 18.2) rotate(-56)" fill="#26262a"><rect x="-2.400" y="-2.100" width="4.800" height="1.150"/><rect x="-2.400" y="-.575" width="4.800" height="1.150"/><rect x="-2.400" y=".95" width="4.800" height="1.150"/></g></svg>
<span class="c" style="left:594.18px;top:511.42px;transform:scaleX(0.9960);">Seoul</span>
<span class="v" style="left:873.02px;top:512.19px;transform:scaleX(0.9594)">4.54</span>
</div>
<div class="row">
<span class="n" style="left:508.99px;top:548.79px;">34</span>
<svg class="fl" style="left:551.50px;top:550.25px;width:33.25px;height:22.75px" viewBox="0 0 34 24" preserveAspectRatio="none"><rect width="34" height="24" fill="#fff"/><rect y="0.000" width="34" height="1.846" fill="#c8324a"/><rect y="3.692" width="34" height="1.846" fill="#c8324a"/><rect y="7.384" width="34" height="1.846" fill="#c8324a"/><rect y="11.076" width="34" height="1.846" fill="#c8324a"/><rect y="14.768" width="34" height="1.846" fill="#c8324a"/><rect y="18.460" width="34" height="1.846" fill="#c8324a"/><rect y="22.152" width="34" height="1.846" fill="#c8324a"/><rect width="17" height="12.920" fill="#43487f"/><circle cx="1.60" cy="1.40" r=".62" fill="#aeb2d6"/><circle cx="4.36" cy="1.40" r=".62" fill="#aeb2d6"/><circle cx="7.12" cy="1.40" r=".62" fill="#aeb2d6"/><circle cx="9.88" cy="1.40" r=".62" fill="#aeb2d6"/><circle cx="12.64" cy="1.40" r=".62" fill="#aeb2d6"/><circle cx="15.40" cy="1.40" r=".62" fill="#aeb2d6"/><circle cx="1.60" cy="3.93" r=".62" fill="#aeb2d6"/><circle cx="4.36" cy="3.93" r=".62" fill="#aeb2d6"/><circle cx="7.12" cy="3.93" r=".62" fill="#aeb2d6"/><circle cx="9.88" cy="3.93" r=".62" fill="#aeb2d6"/><circle cx="12.64" cy="3.93" r=".62" fill="#aeb2d6"/><circle cx="15.40" cy="3.93" r=".62" fill="#aeb2d6"/><circle cx="1.60" cy="6.46" r=".62" fill="#aeb2d6"/><circle cx="4.36" cy="6.46" r=".62" fill="#aeb2d6"/><circle cx="7.12" cy="6.46" r=".62" fill="#aeb2d6"/><circle cx="9.88" cy="6.46" r=".62" fill="#aeb2d6"/><circle cx="12.64" cy="6.46" r=".62" fill="#aeb2d6"/><circle cx="15.40" cy="6.46" r=".62" fill="#aeb2d6"/><circle cx="1.60" cy="8.99" r=".62" fill="#aeb2d6"/><circle cx="4.36" cy="8.99" r=".62" fill="#aeb2d6"/><circle cx="7.12" cy="8.99" r=".62" fill="#aeb2d6"/><circle cx="9.88" cy="8.99" r=".62" fill="#aeb2d6"/><circle cx="12.64" cy="8.99" r=".62" fill="#aeb2d6"/><circle cx="15.40" cy="8.99" r=".62" fill="#aeb2d6"/><circle cx="1.60" cy="11.52" r=".62" fill="#aeb2d6"/><circle cx="4.36" cy="11.52" r=".62" fill="#aeb2d6"/><circle cx="7.12" cy="11.52" r=".62" fill="#aeb2d6"/><circle cx="9.88" cy="11.52" r=".62" fill="#aeb2d6"/><circle cx="12.64" cy="11.52" r=".62" fill="#aeb2d6"/><circle cx="15.40" cy="11.52" r=".62" fill="#aeb2d6"/></svg>
<span class="c" style="left:594.59px;top:548.79px;transform:scaleX(1.0204);">New York City</span>
<span class="v" style="left:873.02px;top:549.56px;transform:scaleX(0.9594)">4.54</span>
</div>
<div class="row">
<span class="n" style="left:508.99px;top:586.16px;">35</span>
<svg class="fl" style="left:551.25px;top:589.60px;width:33.35px;height:22.90px" viewBox="0 0 34 24" preserveAspectRatio="none"><rect width="34" height="24" fill="#fff"/><rect width="34" height="8" fill="#f79a3a"/><rect y="16" width="34" height="8" fill="#1f8a2a"/><circle cx="17" cy="12" r="3.3" fill="none" stroke="#2a3aa0" stroke-width="1.1"/><circle cx="17" cy="12" r="1.2" fill="#2a3aa0"/></svg>
<span class="c" style="left:594.48px;top:586.16px;transform:scaleX(1.0663);">Mumbai</span>
<span class="v" style="left:873.02px;top:586.93px;transform:scaleX(0.9594)">4.54</span>
</div>
<div class="row">
<span class="n" style="left:508.99px;top:623.53px;">36</span>
<svg class="fl" style="left:551.50px;top:627.10px;width:33.10px;height:23.80px" viewBox="0 0 34 24" preserveAspectRatio="none"><rect width="34" height="24" fill="#e30a17"/><circle cx="11.5" cy="12" r="6" fill="#fff"/><circle cx="13" cy="12" r="4.8" fill="#e30a17"/><polygon points="15.70,12.00 17.70,11.35 17.70,9.24 18.94,10.95 20.95,10.30 19.71,12.00 20.95,13.70 18.94,13.05 17.70,14.76 17.70,12.65" fill="#fff"/></svg>
<span class="c" style="left:594.17px;top:623.53px;transform:scaleX(1.0675);">Istanbul</span>
<span class="v" style="left:873.02px;top:624.30px;transform:scaleX(0.9594)">4.53</span>
</div>
<div class="row">
<span class="n" style="left:508.99px;top:660.90px;">37</span>
<svg class="fl" style="left:551.00px;top:663.75px;width:34.60px;height:23.00px" viewBox="0 0 34 24" preserveAspectRatio="none"><rect width="34" height="24" fill="#fff"/><circle cx="17" cy="12" r="7" fill="#c00c34"/></svg>
<span class="c" style="left:594.58px;top:660.90px;transform:scaleX(1.0263);">Kyoto</span>
<span class="v" style="left:873.02px;top:661.67px;transform:scaleX(0.9594)">4.53</span>
</div>
<div class="row">
<span class="n" style="left:508.99px;top:698.27px;">38</span>
<svg class="fl" style="left:551.25px;top:700.25px;width:33.35px;height:23.00px" viewBox="0 0 34 24" preserveAspectRatio="none"><rect width="34" height="24" fill="#fff"/><rect width="10.6" height="24" fill="#0b6b48"/><rect x="23.6" width="10.4" height="24" fill="#d7141f"/><ellipse cx="17.4" cy="11.2" rx="3.900" ry="3.700" fill="#a08a62"/><path d="M17 8c2-1 4.200.2 4.200 2.400c0 1.600-1.200 2.600-2.800 2.600c-1.600 0-2.400-1.400-1.400-5z" fill="#6a4526"/><circle cx="19.400" cy="12.600" r="1.200" fill="#b0473a"/><path d="M12.800 12.600c.4 2.600 2.200 4 4.400 4s3.800-1.200 4.400-3.400" stroke="#7a9a63" stroke-width="1.500" fill="none"/><ellipse cx="14.400" cy="12.800" rx="1.500" ry="1.800" fill="#8aa672"/></svg>
<span class="c" style="left:594.00px;top:698.27px;transform:scaleX(1.0188);">Cancún</span>
<span class="v" style="left:873.02px;top:699.04px;transform:scaleX(0.9594)">4.53</span>
</div>
<div class="row">
<span class="n" style="left:508.99px;top:735.64px;">39</span>
<svg class="fl" style="left:551.25px;top:738.60px;width:33.35px;height:22.90px" viewBox="0 0 34 24" preserveAspectRatio="none"><rect width="34" height="24" fill="#fff"/><rect width="34" height="8" fill="#f79a3a"/><rect y="16" width="34" height="8" fill="#1f8a2a"/><circle cx="17" cy="12" r="3.3" fill="none" stroke="#2a3aa0" stroke-width="1.1"/><circle cx="17" cy="12" r="1.2" fill="#2a3aa0"/></svg>
<span class="c" style="left:594.54px;top:735.64px;transform:scaleX(1.0435);">Hyderabad</span>
<span class="v" style="left:873.02px;top:736.41px;transform:scaleX(0.9594)">4.53</span>
</div>
<div class="row">
<span class="n" style="left:508.99px;top:773.01px;">40</span>
<svg class="fl" style="left:551.25px;top:775.75px;width:33.35px;height:22.65px" viewBox="0 0 34 24" preserveAspectRatio="none"><rect width="34" height="24" fill="#fff"/><rect width="34" height="5.400" fill="#ee1d25"/><rect y="18.400" width="34" height="5.600" fill="#ee1d25"/><path d="M17 6.400l2.400 2.800l-1 .2l2.600 2.400l-1.200.2l3 2.800h-4.600l.6 1.800h-3.600l.6-1.800h-4.600l3-2.800l-1.200-.2l2.600-2.400l-1-.2z" fill="#1fa24a"/></svg>
<span class="c" style="left:594.55px;top:773.01px;transform:scaleX(1.0386);">Beirut</span>
<span class="v" style="left:873.02px;top:773.78px;transform:scaleX(0.9594)">4.52</span>
</div>
<div class="row">
<span class="n" style="left:508.99px;top:810.38px;">41</span>
<svg class="fl" style="left:551.25px;top:813.60px;width:33.35px;height:23.15px" viewBox="0 0 34 24" preserveAspectRatio="none"><rect width="34" height="24" fill="#fff"/><rect width="10.6" height="24" fill="#0b6b48"/><rect x="23.6" width="10.4" height="24" fill="#d7141f"/><ellipse cx="17.4" cy="11.2" rx="3.900" ry="3.700" fill="#a08a62"/><path d="M17 8c2-1 4.200.2 4.200 2.400c0 1.600-1.200 2.600-2.800 2.600c-1.600 0-2.400-1.400-1.400-5z" fill="#6a4526"/><circle cx="19.400" cy="12.600" r="1.200" fill="#b0473a"/><path d="M12.800 12.600c.4 2.600 2.200 4 4.400 4s3.800-1.200 4.400-3.400" stroke="#7a9a63" stroke-width="1.500" fill="none"/><ellipse cx="14.400" cy="12.800" rx="1.500" ry="1.800" fill="#8aa672"/></svg>
<span class="c" style="left:594.59px;top:810.38px;transform:scaleX(1.0195);">Mexico City</span>
<span class="v" style="left:873.02px;top:811.15px;transform:scaleX(0.9594)">4.52</span>
</div>
<div class="row">
<span class="n" style="left:508.99px;top:847.75px;">42</span>
<svg class="fl" style="left:551.25px;top:849.90px;width:33.35px;height:22.85px" viewBox="0 0 34 24" preserveAspectRatio="none"><rect width="34" height="24" fill="#f4f4f4"/><rect width="34" height="11.6" fill="#cd2a2e"/></svg>
<span class="c" style="left:594.59px;top:847.75px;transform:scaleX(1.0226);">Padang</span>
<span class="v" style="left:873.02px;top:848.52px;transform:scaleX(0.9594)">4.51</span>
</div>
<div class="row">
<span class="n" style="left:508.99px;top:885.12px;">43</span>
<svg class="fl" style="left:551.50px;top:887.00px;width:33.10px;height:22.90px" viewBox="0 0 34 24" preserveAspectRatio="none"><rect width="34" height="24" fill="#15a043"/><polygon points="17,3 31,12 17,21 3,12" fill="#fedf00"/><circle cx="17" cy="12" r="5.8" fill="#102a7a"/><path d="M11.6 10.4c4-1.2 8-.2 10.900 3.200" stroke="#dfe6f5" stroke-width="1.1" fill="none"/></svg>
<span class="c" style="left:594.65px;top:885.12px;transform:scaleX(0.9965);">Rio de Janeiro</span>
<span class="v" style="left:873.02px;top:885.89px;transform:scaleX(0.9594)">4.51</span>
</div>
<div class="row">
<span class="n" style="left:508.99px;top:922.49px;">44</span>
<svg class="fl" style="left:551.20px;top:924.25px;width:33.20px;height:22.75px" viewBox="0 0 34 24" preserveAspectRatio="none"><rect width="11.33" height="24" fill="#000"/><rect x="11.33" width="11.34" height="24" fill="#fdda25"/><rect x="22.67" width="11.33" height="24" fill="#ef3340"/></svg>
<span class="c" style="left:594.70px;top:922.49px;transform:scaleX(0.9729);">Brussels</span>
<span class="v" style="left:873.02px;top:923.26px;transform:scaleX(0.9594)">4.49</span>
</div>
<div class="row">
<span class="n" style="left:508.99px;top:959.86px;">45</span>
<svg class="fl" style="left:552.25px;top:961.75px;width:33.35px;height:23.50px" viewBox="0 0 34 24" preserveAspectRatio="none"><rect width="34" height="24" fill="#fff"/><rect y="8" width="34" height="8" fill="#1c3fb4"/><rect y="16" width="34" height="8" fill="#e1281c"/></svg>
<span class="c" style="left:594.60px;top:959.86px;transform:scaleX(1.0150);">Moscow</span>
<span class="v" style="left:873.02px;top:960.63px;transform:scaleX(0.9594)">4.49</span>
</div>
<div class="row">
<span class="n" style="left:508.99px;top:997.23px;">46</span>
<svg class="fl" style="left:552.25px;top:998.25px;width:33.35px;height:23.75px" viewBox="0 0 34 24" preserveAspectRatio="none"><rect width="34" height="24" fill="#f2312a"/><rect width="12.4" height="24" fill="#147a40"/><circle cx="12.4" cy="12" r="5.5" fill="none" stroke="#f3cf3a" stroke-width="1.5"/><path d="M9.300 8.400h6.200v4.200c0 2-1.300 3.200-3.100 3.800c-1.800-.6-3.100-1.800-3.100-3.800z" fill="#d9342b"/><path d="M10.500 9.600h3.800v3c0 1.200-.8 2-1.900 2.400c-1.100-.4-1.900-1.200-1.900-2.400z" fill="#f4f4f4"/><rect x="11.700" y="10.600" width="1.400" height="2.400" fill="#3a57b0"/></svg>
<span class="c" style="left:594.54px;top:997.23px;transform:scaleX(1.0421);">Porto</span>
<span class="v" style="left:873.02px;top:998.00px;transform:scaleX(0.9594)">4.49</span>
</div>
<div class="row">
<span class="n" style="left:508.99px;top:1034.60px;">47</span>
<svg class="fl" style="left:551.90px;top:1036.40px;width:32.50px;height:24.10px" viewBox="0 0 34 24" preserveAspectRatio="none"><rect width="34" height="24" fill="#fff"/><rect width="11.3" height="24" fill="#0a2b6b"/><rect x="22.7" width="11.3" height="24" fill="#df1a2e"/></svg>
<span class="c" style="left:594.61px;top:1034.60px;transform:scaleX(1.0146);">Nice</span>
<span class="v" style="left:873.02px;top:1035.37px;transform:scaleX(0.9594)">4.49</span>
</div>
<div class="row">
<span class="n" style="left:508.99px;top:1071.97px;">48</span>
<svg class="fl" style="left:552.50px;top:1072.60px;width:33.10px;height:23.40px" viewBox="0 0 34 24" preserveAspectRatio="none"><rect width="34" height="24" fill="#fff"/><rect width="11.3" height="24" fill="#149246"/><rect x="22.7" width="11.3" height="24" fill="#d22b3a"/></svg>
<span class="c" style="left:594.49px;top:1071.97px;transform:scaleX(1.0629);">Milan</span>
<span class="v" style="left:873.02px;top:1072.74px;transform:scaleX(0.9594)">4.49</span>
</div>
<div class="row">
<span class="n" style="left:508.99px;top:1109.34px;">49</span>
<svg class="fl" style="left:551.00px;top:1111.75px;width:33.75px;height:22.75px" viewBox="0 0 34 24" preserveAspectRatio="none"><rect width="34" height="24" fill="#f4f4f4"/><rect width="34" height="11.6" fill="#cd2a2e"/></svg>
<span class="c" style="left:594.48px;top:1109.34px;transform:scaleX(1.0665);">Malang</span>
<span class="v" style="left:873.02px;top:1110.11px;transform:scaleX(0.9594)">4.48</span>
</div>
<div class="row">
<span class="n" style="left:508.99px;top:1146.71px;">50</span>
<svg class="fl" style="left:552.40px;top:1147.20px;width:33.10px;height:24.10px" viewBox="0 0 34 24" preserveAspectRatio="none"><rect width="34" height="24" fill="#e8131c"/><rect width="34" height="12" fill="#fff"/><polygon points="0,0 17,12 0,24" fill="#1c4f9c"/></svg>
<span class="c" style="left:594.62px;top:1146.71px;transform:scaleX(1.0076);">Prague</span>
<span class="v" style="left:873.02px;top:1147.48px;transform:scaleX(0.9594)">4.47</span>
</div>
</div>
</body></html>
